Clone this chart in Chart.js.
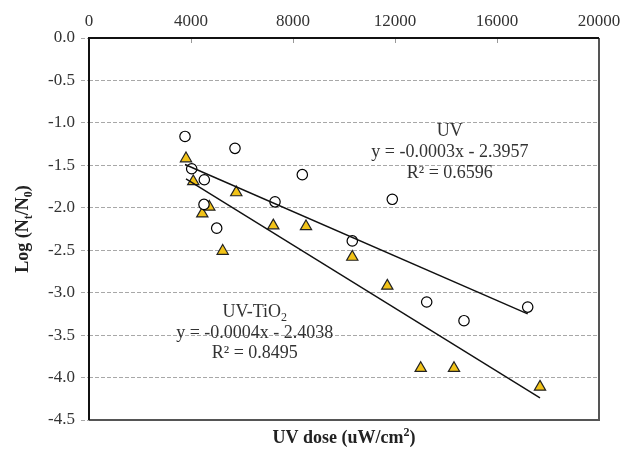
<!DOCTYPE html>
<html>
<head>
<meta charset="utf-8">
<script src="https://cdn.jsdelivr.net/npm/chart.js@4/dist/chart.umd.min.js"></script>
<style>
  body { margin: 0; background: #fff; }
  #wrap { width: 622px; height: 452px; }
</style>
</head>
<body>
<div id="wrap"><canvas id="doseChart"></canvas></div>
<script>
// UV alone (open circles)
const uvDose = [3765, 5725, 4027, 4522, 4510, 5008, 7294, 8365, 11894, 10325, 13243, 14706, 17204];
const uvLog  = [-1.16, -1.30, -1.54, -1.67, -1.96, -2.24, -1.93, -1.61, -1.90, -2.39, -3.11, -3.33, -3.17];

// UV-TiO2 (yellow triangles)
const tioDose = [3804, 4090, 4443, 4718, 5243, 5776, 7227, 8510, 10325, 11698, 13008, 14314, 17686];
const tioLog  = [-1.42, -1.69, -2.07, -1.99, -2.51, -1.82, -2.21, -2.22, -2.58, -2.92, -3.89, -3.89, -4.11];

// trendline ends
const uvTrendDose  = [3765, 17204];
const uvTrendLog   = [-1.49, -3.25];
const tioTrendDose = [3804, 17686];
const tioTrendLog  = [-1.66, -4.24];

const xTicks = [0, 4000, 8000, 12000, 16000, 20000];
const yTicks = [0, -0.5, -1, -1.5, -2, -2.5, -3, -3.5, -4, -4.5];

const uvNote  = ["UV", "y = -0.0003x - 2.3957", "R² = 0.6596"];
const tioNote = ["y = -0.0004x - 2.4038", "R² = 0.8495"];

const pts = (xs, ys) => xs.map((v, i) => ({ x: v, y: ys[i] }));
const serif = '"Liberation Serif", "Times New Roman", serif';

// draws text made of pieces, some of them sub/superscript, centred on cx
function richText(ctx, parts, cx, cy, size, weight) {
  const big = weight + " " + size + "px " + serif;
  const small = weight + " " + Math.round(size * 0.68) + "px " + serif;
  let total = 0;
  parts.forEach(p => {
    ctx.font = p.sub || p.sup ? small : big;
    total += ctx.measureText(p.t).width;
  });
  let xpos = cx - total / 2;
  ctx.textAlign = "left";
  ctx.textBaseline = "alphabetic";
  const base = cy + size * 0.33;
  parts.forEach(p => {
    ctx.font = p.sub || p.sup ? small : big;
    let yy = base;
    if (p.sub) yy += size * 0.22;
    if (p.sup) yy -= size * 0.38;
    ctx.fillText(p.t, xpos, yy);
    xpos += ctx.measureText(p.t).width;
  });
}

const extras = {
  id: "extras",
  afterDatasetsDraw(chart) {
    const { ctx, chartArea: a, scales } = chart;
    const x = scales.x, y = scales.y;
    ctx.save();

    // small tick marks under the top axis
    ctx.strokeStyle = "#999";
    ctx.lineWidth = 1;
    xTicks.forEach(v => {
      const px = Math.round(x.getPixelForValue(v)) + 0.5;
      ctx.beginPath();
      ctx.moveTo(px, a.top);
      ctx.lineTo(px, a.top + 5);
      ctx.stroke();
    });

    // plot frame
    ctx.lineWidth = 2;
    ctx.strokeStyle = "#555";
    ctx.beginPath();
    ctx.moveTo(a.right, a.top);
    ctx.lineTo(a.right, a.bottom);
    ctx.lineTo(a.left, a.bottom);
    ctx.stroke();
    ctx.strokeStyle = "#111";
    ctx.beginPath();
    ctx.moveTo(a.left, a.bottom);
    ctx.lineTo(a.left, a.top);
    ctx.lineTo(a.right, a.top);
    ctx.stroke();

    // trendline labels
    ctx.fillStyle = "#333";
    const ux = x.getPixelForValue(14150), uy = y.getPixelForValue(-1.08);
    uvNote.forEach((t, i) => richText(ctx, [{ t: t }], ux, uy + i * 21, 18, "normal"));

    const tx = x.getPixelForValue(6500), ty = y.getPixelForValue(-3.22);
    richText(ctx, [{ t: "UV-TiO" }, { t: "2", sub: true }], tx, ty, 18, "normal");
    tioNote.forEach((t, i) => richText(ctx, [{ t: t }], tx, ty + (i + 1) * 20.5, 18, "normal"));

    // axis titles
    ctx.fillStyle = "#222";
    richText(ctx, [{ t: "UV dose (uW/cm" }, { t: "2", sup: true }, { t: ")" }],
      (a.left + a.right) / 2, 437, 18, "bold");

    ctx.translate(22, (a.top + a.bottom) / 2);
    ctx.rotate(-Math.PI / 2);
    richText(ctx, [{ t: "Log (N" }, { t: "t", sub: true }, { t: "/N" }, { t: "0", sub: true }, { t: ")" }],
      0, 0, 18, "bold");
    ctx.restore();
  }
};

new Chart(document.getElementById("doseChart"), {
  type: "scatter",
  data: {
    datasets: [
      {
        label: "UV trend",
        data: pts(uvTrendDose, uvTrendLog),
        showLine: true,
        borderColor: "#111",
        borderWidth: 1.4,
        pointRadius: 0
      },
      {
        label: "UV-TiO2 trend",
        data: pts(tioTrendDose, tioTrendLog),
        showLine: true,
        borderColor: "#111",
        borderWidth: 1.4,
        pointRadius: 0
      },
      {
        label: "UV",
        data: pts(uvDose, uvLog),
        pointStyle: "circle",
        pointRadius: 5.2,
        backgroundColor: "#fff",
        borderColor: "#000",
        borderWidth: 1.2
      },
      {
        label: "UV-TiO2",
        data: pts(tioDose, tioLog),
        pointStyle: "triangle",
        pointRadius: 6.5,
        backgroundColor: "#F2C318",
        borderColor: "#222",
        borderWidth: 1.2
      }
    ]
  },
  options: {
    responsive: true,
    maintainAspectRatio: false,
    animation: false,
    layout: { padding: { left: 0, right: 23, top: 0, bottom: 32 } },
    plugins: { legend: { display: false }, tooltip: { enabled: false } },
    scales: {
      x: {
        type: "linear",
        position: "top",
        min: 0,
        max: 20000,
        afterBuildTicks: s => { s.ticks = xTicks.map(v => ({ value: v })); },
        afterFit: s => { s.height = 38; },
        ticks: {
          font: { family: serif, size: 17 },
          color: "#333",
          padding: -2,
          maxRotation: 0,
          callback: v => String(v)
        },
        grid: { display: false },
        border: { display: false }
      },
      y: {
        type: "linear",
        min: -4.5,
        max: 0,
        afterBuildTicks: s => { s.ticks = yTicks.map(v => ({ value: v })); },
        afterFit: s => { s.width = 89; },
        ticks: {
          font: { family: serif, size: 17 },
          color: "#333",
          padding: 6,
          callback: v => v.toFixed(1)
        },
        grid: {
          color: "#a8a8a8",
          lineWidth: 1,
          tickBorderDash: [4, 2],
          tickColor: "#a8a8a8",
          tickLength: 8
        },
        border: { display: false, dash: [4, 2] }
      }
    }
  },
  plugins: [extras]
});
</script>
</body>
</html>
